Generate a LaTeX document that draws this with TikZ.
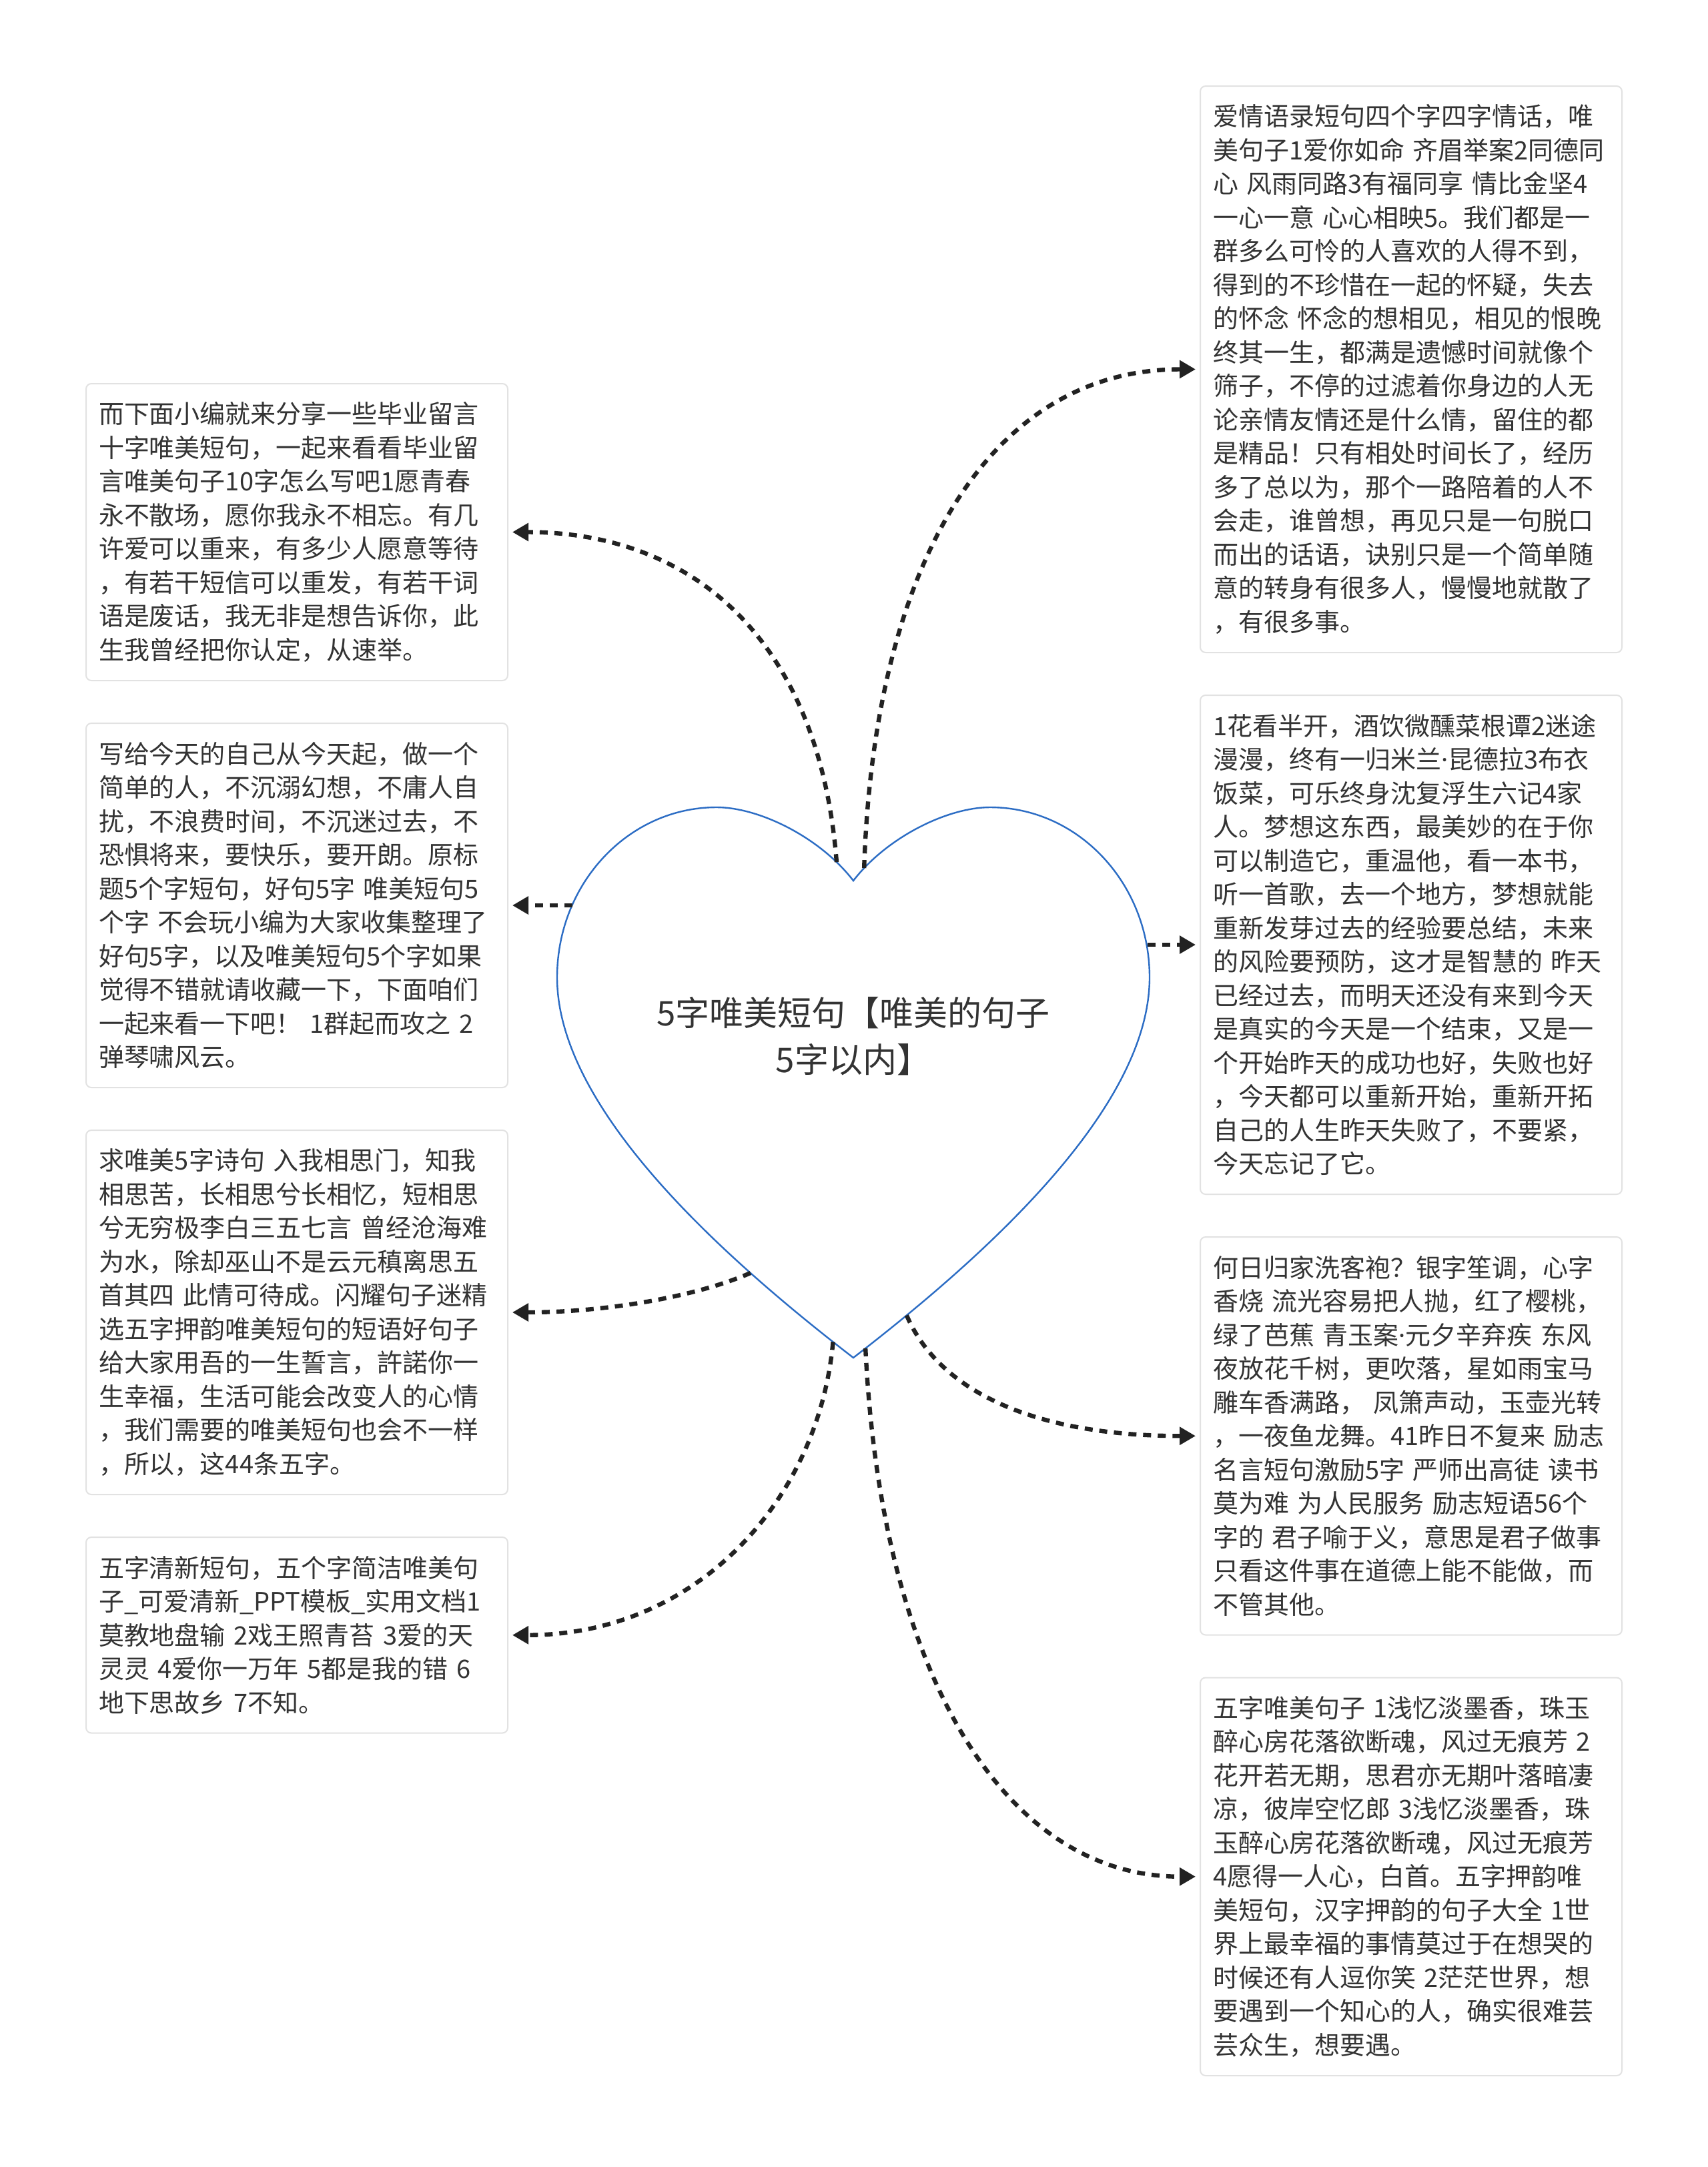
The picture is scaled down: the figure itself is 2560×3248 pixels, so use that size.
\documentclass[tikz,border=0pt]{standalone}
\usepackage{fontspec}
\setmainfont{Noto Sans CJK SC}
\newfontfamily\latinfont{Noto Sans}
\newcommand{\middot}{{\latinfont ·}}
\definecolor{heartblue}{RGB}{43, 108, 196}
\definecolor{textgray}{RGB}{51, 51, 51}
\definecolor{boxgray}{RGB}{226, 226, 226}
\definecolor{linkgray}{RGB}{34, 34, 34}
\usetikzlibrary{arrows.meta, positioning}
\tikzset{
	leaf/.style={rectangle, rounded corners=2pt, draw=boxgray, fill=white, line width=0.5pt, align=left, text width=148.5pt, inner xsep=4.75pt, inner ysep=3pt, minimum height={#1*12.625pt+10.25pt}, anchor=north west, text=textgray, font=\fontsize{9.5pt}{12.625pt}\selectfont},
	heart/.style={draw=heartblue, line width=0.6pt, fill=white},
	core/.style={align=center, text=textgray, font=\fontsize{12.75pt}{17.5pt}\selectfont},
	link/.style={-{Triangle[length=6pt, width=6.5pt]}, line width=1.6pt, dash pattern=on 3pt off 2.5pt, draw=linkgray, shorten >=1.5pt},
}

\begin{document}
\begin{tikzpicture}[x=0.25pt, y=-0.25pt, node distance=15.5pt]
		\fill[white] (0,0) rectangle (2560,3248);
		\draw[heart] (1279,1320) .. controls (1329,1255) and (1420,1210) .. coordinate[pos=0.1] (s2) (1484,1210)
			.. controls (1616,1210) and (1723,1324) .. coordinate[pos=0.9] (s4) (1723,1465)
			.. controls (1723,1660) and (1480,1880) .. coordinate[pos=0.87] (s7) coordinate[pos=0.97] (s8) (1279,2035)
			.. controls (1078,1880) and (835,1660) .. coordinate[pos=0.05] (s6) coordinate[pos=0.25] (s5) (835,1465)
			.. controls (835,1324) and (942,1210) .. coordinate[pos=0.275] (s3) (1074,1210)
			.. controls (1138,1210) and (1229,1255) .. coordinate[pos=0.85] (s1) (1279,1320) -- cycle;
		\node[core] (root) at (1279,1553) {5字唯美短句【唯美的句子\\5字以内】};

		\node[leaf=8] (l1) at (128,574) {而下面小编就来分享一些毕业留言\\十字唯美短句，一起来看看毕业留\\言唯美句子10字怎么写吧1愿青春\\永不散场，愿你我永不相忘。有几\\许爱可以重来，有多少人愿意等待\\，有若干短信可以重发，有若干词\\语是废话，我无非是想告诉你，此\\生我曾经把你认定，从速举。};
		\node[leaf=10, below=of l1] (l2) {写给今天的自己从今天起，做一个\\简单的人，不沉溺幻想，不庸人自\\扰，不浪费时间，不沉迷过去，不\\恐惧将来，要快乐，要开朗。原标\\题5个字短句，好句5字 唯美短句5\\个字 不会玩小编为大家收集整理了\\好句5字，以及唯美短句5个字如果\\觉得不错就请收藏一下，下面咱们\\一起来看一下吧！ 1群起而攻之 2\\弹琴啸风云。};
		\node[leaf=10, below=of l2] (l3) {求唯美5字诗句 入我相思门，知我\\相思苦，长相思兮长相忆，短相思\\兮无穷极李白三五七言 曾经沧海难\\为水，除却巫山不是云元稹离思五\\首其四 此情可待成。闪耀句子迷精\\选五字押韵唯美短句的短语好句子\\给大家用吾的一生誓言，許諾你一\\生幸福，生活可能会改变人的心情\\，我们需要的唯美短句也会不一样\\，所以，这44条五字。};
		\node[leaf=5, below=of l3] (l4) {五字清新短句，五个字简洁唯美句\\子\_可爱清新\_PPT模板\_实用文档1\\莫教地盘输 2戏王照青苔 3爱的天\\灵灵 4爱你一万年 5都是我的错 6\\地下思故乡 7不知。};

		\node[leaf=16] (r1) at (1798,128) {爱情语录短句四个字四字情话，唯\\美句子1爱你如命 齐眉举案2同德同\\心 风雨同路3有福同享 情比金坚4\\一心一意 心心相映5。我们都是一\\群多么可怜的人喜欢的人得不到，\\得到的不珍惜在一起的怀疑，失去\\的怀念 怀念的想相见，相见的恨晚\\终其一生，都满是遗憾时间就像个\\筛子，不停的过滤着你身边的人无\\论亲情友情还是什么情，留住的都\\是精品！只有相处时间长了，经历\\多了总以为，那个一路陪着的人不\\会走，谁曾想，再见只是一句脱口\\而出的话语，诀别只是一个简单随\\意的转身有很多人，慢慢地就散了\\，有很多事。};
		\node[leaf=14, below=of r1] (r2) {1花看半开，酒饮微醺菜根谭2迷途\\漫漫，终有一归米兰\middot 昆德拉3布衣\\饭菜，可乐终身沈复浮生六记4家\\人。梦想这东西，最美妙的在于你\\可以制造它，重温他，看一本书，\\听一首歌，去一个地方，梦想就能\\重新发芽过去的经验要总结，未来\\的风险要预防，这才是智慧的 昨天\\已经过去，而明天还没有来到今天\\是真实的今天是一个结束，又是一\\个开始昨天的成功也好，失败也好\\，今天都可以重新开始，重新开拓\\自己的人生昨天失败了，不要紧，\\今天忘记了它。};
		\node[leaf=11, below=of r2] (r3) {何日归家洗客袍？银字笙调，心字\\香烧 流光容易把人抛，红了樱桃，\\绿了芭蕉 青玉案\middot 元夕辛弃疾 东风\\夜放花千树，更吹落，星如雨宝马\\雕车香满路， 凤箫声动，玉壶光转\\，一夜鱼龙舞。41昨日不复来 励志\\名言短句激励5字 严师出高徒 读书\\莫为难 为人民服务 励志短语56个\\字的 君子喻于义，意思是君子做事\\只看这件事在道德上能不能做，而\\不管其他。};
		\node[leaf=11, below=of r3] (r4) {五字唯美句子 1浅忆淡墨香，珠玉\\醉心房花落欲断魂，风过无痕芳 2\\花开若无期，思君亦无期叶落暗凄\\凉，彼岸空忆郎 3浅忆淡墨香，珠\\玉醉心房花落欲断魂，风过无痕芳\\4愿得一人心，白首。五字押韵唯\\美短句，汉字押韵的句子大全 1世\\界上最幸福的事情莫过于在想哭的\\时候还有人逗你笑 2茫茫世界，想\\要遇到一个知心的人，确实很难芸\\芸众生，想要遇。};

		\draw[link] (s1) .. controls +(-27,-341) and +(270,0) .. (l1.east);
		\draw[link] (s2) .. controls +(15,-451) and +(-318,0) .. (r1.west);
		\draw[link] (s3 |- l2.east) -- (l2.east);
		\draw[link] (s4 |- r2.west) -- (r2.west);
		\draw[link] (s5) .. controls +(-85,37) and +(140,0) .. (l3.east);
		\draw[link] (s6) .. controls +(-22,240) and +(280,0) .. (l4.east);
		\draw[link] (s7) .. controls +(51,119) and +(-238,0) .. (r3.west);
		\draw[link] (s8) .. controls +(23,479) and +(-298,0) .. (r4.west);
	\end{tikzpicture}
\end{document}
